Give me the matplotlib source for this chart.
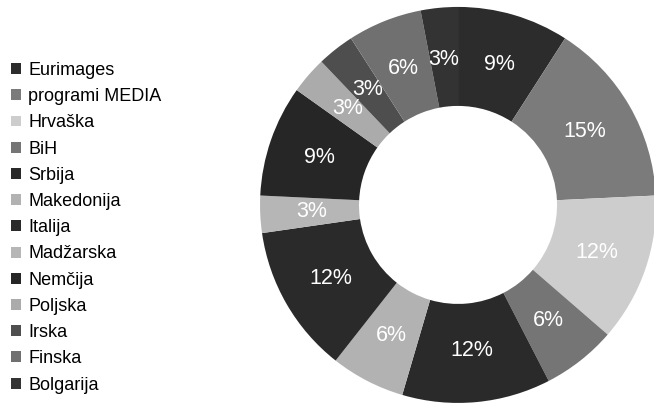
import matplotlib.pyplot as plt

plt.rcParams['font.family'] = ['Liberation Sans', 'DejaVu Sans']

names = ['Eurimages', 'programi MEDIA', 'Hrvaška', 'BiH', 'Srbija', 'Makedonija',
         'Italija', 'Madžarska', 'Nemčija', 'Poljska', 'Irska', 'Finska', 'Bolgarija']
shares = [9, 15, 12, 6, 12, 6, 12, 3, 9, 3, 3, 6, 3]
greys = ['#2c2c2c', '#7b7b7b', '#cdcdcd', '#757575', '#2a2a2a', '#b2b2b2', '#2a2a2a',
         '#b6b6b6', '#262626', '#ababab', '#4e4e4e', '#707070', '#333333']

fig = plt.figure(figsize=(6.54, 4.05), dpi=100)
ax = fig.add_axes([0.3976, 0.005, 0.6055, 0.978])

total = sum(shares)
wedges, texts, pcts = ax.pie(shares, colors=greys, startangle=90, counterclock=False,
                             wedgeprops=dict(width=0.5, linewidth=0),
                             autopct=lambda p: '%d%%' % round(p * total / 100.0),
                             pctdistance=0.74,
                             textprops=dict(color='white', fontsize=15.5))
ax.set_xlim(-1, 1)
ax.set_ylim(-1, 1)
ax.set_aspect('equal')

fig.legend(wedges, names, loc='upper left', bbox_to_anchor=(11 / 654, 1 - 62 / 405),
           frameon=False, fontsize=13, handlelength=0.55, handleheight=0.55,
           handletextpad=0.4, labelspacing=0.51, borderpad=0, borderaxespad=0)

fig.savefig('out.png', dpi=100)
